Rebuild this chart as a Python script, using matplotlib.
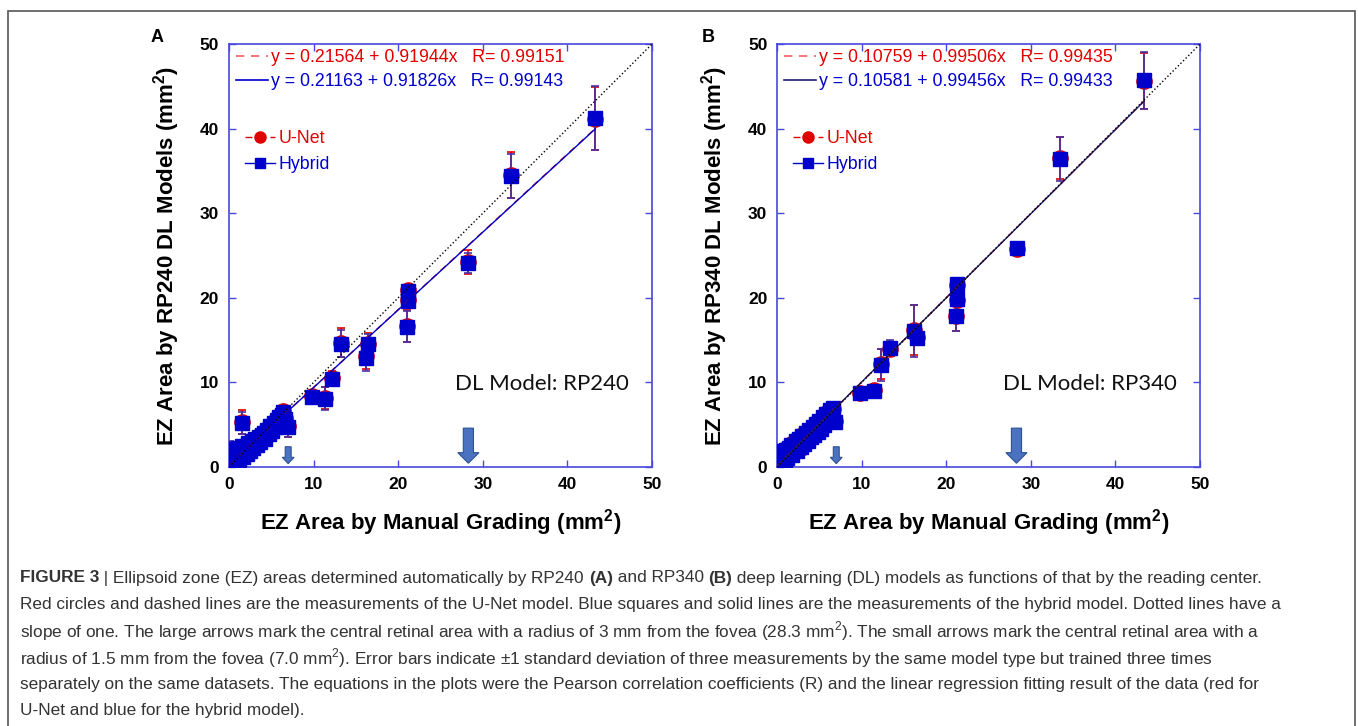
import matplotlib
matplotlib.use("Agg")
import matplotlib.pyplot as plt
from matplotlib.lines import Line2D
from matplotlib.patches import Rectangle
from matplotlib.text import Annotation

plt.rcParams['font.family'] = ['Liberation Sans', 'DejaVu Sans']
plt.rcParams['mathtext.fontset'] = 'custom'
plt.rcParams['mathtext.rm'] = 'Liberation Sans'
plt.rcParams['mathtext.bf'] = 'Liberation Sans:bold'

# ---------------- datos ----------------
# Panel A: modelo RP240
manual_a = [0.05, 0.15, 0.2, 0.3, 0.4, 0.5, 0.6, 0.75, 0.85, 0.95,
            1.1, 1.2, 1.35, 1.5, 1.7, 1.9, 2.1, 2.3, 2.5, 2.7,
            2.9, 3.1, 3.3, 3.5, 3.7, 3.9, 4.1, 4.3, 4.5, 4.7,
            4.9, 5.1, 5.3, 5.5, 5.7, 5.9, 6.1, 6.3, 6.4, 6.6,
            1.6, 7.0, 9.8, 11.4, 12.2, 13.2, 16.2, 16.4, 21.0, 21.2,
            21.2, 28.3, 33.3, 43.3]
hybrid_a = [0.1, 1.5, 0.25, 1.1, 1.6, 0.5, 2.1, 0.9, 0.3, 1.6,
            2.2, 0.8, 1.8, 2.5, 1.2, 2.3, 1.6, 2.8, 1.9, 3.1,
            2.2, 3.3, 2.6, 3.6, 3.0, 3.8, 4.0, 3.3, 4.4, 3.9,
            4.9, 4.3, 5.2, 4.7, 5.6, 5.9, 5.1, 6.2, 6.5, 5.7,
            5.2, 4.7, 8.3, 8.1, 10.4, 14.6, 12.9, 14.5, 16.6, 19.6,
            20.8, 24.1, 34.4, 41.3]
hybrid_a_sd = [0.2, 1.6, 0.2, 0.3, 0.2, 0.3, 0.3, 0.2, 0.3, 0.2,
               0.3, 0.2, 0.3, 0.2, 0.3, 0.2, 0.3, 0.2, 0.3, 0.2,
               0.3, 0.2, 0.3, 0.2, 0.3, 0.2, 0.3, 0.2, 0.3, 0.2,
               0.3, 0.2, 0.3, 0.2, 0.3, 0.2, 0.3, 0.2, 0.3, 0.2,
               1.3, 1.1, 0.3, 1.4, 0.7, 1.6, 1.6, 1.2, 1.8, 0.7,
               0.5, 1.2, 2.6, 3.8]
unet_a = [0.2, 1.4, 0.3, 1.2, 1.5, 0.6, 2.0, 1.0, 0.4, 1.7,
          2.1, 0.9, 1.9, 2.4, 1.3, 2.4, 1.7, 2.7, 2.0, 3.2,
          2.3, 3.2, 2.7, 3.7, 3.1, 3.9, 3.9, 3.4, 4.5, 4.0,
          4.8, 4.4, 5.3, 4.8, 5.5, 6.0, 5.2, 6.1, 6.6, 5.8,
          5.3, 4.8, 8.4, 8.2, 10.5, 14.7, 13.1, 14.6, 16.7, 19.7,
          20.9, 24.2, 34.5, 41.2]
unet_a_sd = [0.3, 1.5, 0.3, 0.3, 0.3, 0.3, 0.3, 0.3, 0.3, 0.3,
             0.3, 0.3, 0.3, 0.3, 0.3, 0.3, 0.3, 0.3, 0.3, 0.3,
             0.3, 0.3, 0.3, 0.3, 0.3, 0.3, 0.3, 0.3, 0.3, 0.3,
             0.3, 0.3, 0.3, 0.3, 0.3, 0.3, 0.3, 0.3, 0.3, 0.3,
             1.4, 1.2, 0.4, 1.3, 0.8, 1.7, 1.5, 1.3, 1.9, 0.8,
             0.6, 1.4, 2.7, 3.7]

# Panel B: modelo RP340
manual_b = [0.05, 0.1, 0.2, 0.3, 0.4, 0.5, 0.6, 0.75, 0.9, 1.0,
            1.2, 1.4, 1.6, 1.8, 2.0, 2.2, 2.4, 2.6, 2.8, 3.0,
            3.2, 3.4, 3.6, 3.8, 4.0, 4.2, 4.4, 4.6, 4.8, 5.0,
            5.2, 5.4, 5.6, 5.8, 6.0, 6.2, 6.4, 6.6, 6.9, 9.8,
            11.5, 12.3, 13.3, 16.2, 16.6, 21.1, 21.3, 21.3, 28.4, 33.5,
            43.4]
hybrid_b = [0.1, 0.6, 1.3, 0.2, 0.9, 1.7, 0.4, 1.9, 0.7, 2.0,
            1.1, 2.2, 2.6, 1.4, 2.1, 3.1, 1.9, 3.3, 2.4, 3.7,
            2.7, 4.0, 3.1, 4.4, 3.5, 4.7, 3.8, 5.1, 4.1, 5.4,
            4.5, 5.9, 5.0, 6.3, 5.4, 6.8, 5.9, 7.0, 5.3, 8.8,
            9.0, 12.1, 14.1, 16.1, 15.3, 17.8, 19.9, 21.6, 25.9, 36.4,
            45.7]
hybrid_b_sd = [0.2, 0.3, 0.2, 0.3, 0.2, 0.3, 0.2, 0.3, 0.2, 0.8,
               0.2, 0.3, 0.2, 0.3, 0.2, 0.3, 0.2, 0.3, 0.2, 0.3,
               0.2, 0.3, 0.2, 0.3, 0.2, 0.3, 0.2, 0.3, 1.0, 0.3,
               0.2, 0.3, 0.2, 0.3, 0.2, 0.3, 0.2, 0.3, 0.3, 0.2,
               0.2, 1.9, 0.9, 3.1, 0.8, 1.7, 0.4, 0.6, 0.3, 2.6,
               3.4]
unet_b = [0.2, 0.7, 1.2, 0.3, 1.0, 1.6, 0.5, 2.0, 0.8, 1.9,
          1.2, 2.1, 2.7, 1.5, 2.0, 3.2, 2.0, 3.4, 2.3, 3.8,
          2.8, 3.9, 3.2, 4.3, 3.6, 4.6, 3.9, 5.2, 4.2, 5.3,
          4.6, 5.8, 5.1, 6.4, 5.5, 6.7, 6.0, 6.9, 5.4, 8.8,
          9.1, 12.2, 14.0, 16.2, 15.4, 17.9, 19.8, 21.5, 25.8, 36.5,
          45.6]
unet_b_sd = [0.3, 0.3, 0.3, 0.3, 0.3, 0.3, 0.3, 0.3, 0.3, 0.7,
             0.3, 0.3, 0.3, 0.3, 0.3, 0.3, 0.3, 0.3, 0.3, 0.3,
             0.3, 0.3, 0.3, 0.3, 0.3, 0.3, 0.3, 0.3, 1.1, 0.3,
             0.3, 0.3, 0.3, 0.3, 0.3, 0.3, 0.3, 0.3, 0.3, 0.3,
             0.3, 1.8, 0.8, 3.0, 0.9, 1.8, 0.5, 0.7, 0.4, 2.5,
             3.3]

# ajustes lineales (ordenada, pendiente, R)
fit_unet_a = (0.21564, 0.91944, 0.99151)
fit_hybrid_a = (0.21163, 0.91826, 0.99143)
fit_unet_b = (0.10759, 0.99506, 0.99435)
fit_hybrid_b = (0.10581, 0.99456, 0.99433)

# flechas: area central de radio 1.5 mm y 3 mm
arrow_x = [7.0, 28.3]

caption_lines = [
    "Red circles and dashed lines are the measurements of the U-Net model. Blue squares and solid lines are the measurements of the hybrid model. Dotted lines have a",
    "slope of one. The large arrows mark the central retinal area with a radius of 3 mm from the fovea (28.3 mm$^2$). The small arrows mark the central retinal area with a",
    "radius of 1.5 mm from the fovea (7.0 mm$^2$). Error bars indicate \u00b11 standard deviation of three measurements by the same model type but trained three times",
    "separately on the same datasets. The equations in the plots were the Pearson correlation coefficients (R) and the linear regression fitting result of the data (red for",
    "U-Net and blue for the hybrid model).",
]

RED = '#e00000'
BLUE = '#0000cc'
SPINE = '#4848e0'


def panel(ax, manual, unet, unet_sd, hybrid, hybrid_sd, fit_u, fit_h, model, hline_color):
    # U-Net debajo, Hybrid encima
    ax.errorbar(manual, unet, yerr=unet_sd, fmt='o', color=RED, ms=11,
                ecolor=RED, elinewidth=1.2, capsize=3, capthick=1.2, zorder=2)
    ax.errorbar(manual, hybrid, yerr=hybrid_sd, fmt='s', color=BLUE, ms=9.5,
                ecolor='#4a2fa0', elinewidth=1.2, capsize=3, capthick=1.2, zorder=3)

    xmax = max(manual)
    ax.plot([0, xmax], [fit_u[0], fit_u[0] + fit_u[1] * xmax], color=RED,
            ls=(0, (5, 4)), lw=1, zorder=4)
    ax.plot([0, xmax], [fit_h[0], fit_h[0] + fit_h[1] * xmax], color=hline_color,
            lw=1, zorder=4)
    ax.plot([0, 50], [0, 50], color='black', ls=':', lw=1, zorder=5)

    # flechas
    ax.arrow(arrow_x[0], 2.4, 0, -2.0, width=0.7, head_width=1.4, head_length=0.75,
             length_includes_head=True, fc='#4a72c0', ec='#2f528f', lw=0.8, zorder=6)
    ax.arrow(arrow_x[1], 4.6, 0, -4.15, width=1.2, head_width=2.5, head_length=1.25,
             length_includes_head=True, fc='#4a72c0', ec='#2f528f', lw=0.8, zorder=6)

    ax.text(26.7, 9.8, 'DL Model: ' + model, fontsize=16, family=['Lato', 'DejaVu Sans'],
            va='center', ha='left', color='#111111')

    # leyenda de ecuaciones
    eq_u = 'y = %.5f + %.5fx   R= %.5f' % fit_u
    eq_h = 'y = %.5f + %.5fx   R= %.5f' % fit_h
    leg1 = ax.legend([Line2D([], [], color='#f06060', ls=(0, (5, 4)), lw=1.2),
                      Line2D([], [], color=hline_color, lw=1.2)],
                     [eq_u, eq_h], loc='upper left', bbox_to_anchor=(0.0, 1.005),
                     frameon=False, fontsize=12.8, handlelength=1.8, handletextpad=0.15,
                     labelspacing=0.4, borderaxespad=0.1, borderpad=0.3)
    for t, c in zip(leg1.get_texts(), [RED, BLUE]):
        t.set_color(c)
    ax.add_artist(leg1)

    ax.legend([Line2D([], [], color=RED, ls=(0, (5, 4)), marker='o', ms=8, lw=1),
               Line2D([], [], color=BLUE, marker='s', ms=7.5, lw=1)],
              ['U-Net', 'Hybrid'], loc='upper left', bbox_to_anchor=(0.0, 0.835),
              frameon=False, fontsize=12.8, handlelength=1.7, handletextpad=0.2,
              labelspacing=0.5, labelcolor='linecolor')

    ax.set_xlim(0, 50)
    ax.set_ylim(0, 50)
    ax.set_xticks(range(0, 51, 10))
    ax.set_yticks(range(0, 51, 10))
    ax.set_xticklabels([str(v) for v in range(0, 51, 10)], fontweight='bold', fontsize=12.5)
    ax.set_yticklabels([str(v) for v in range(0, 51, 10)], fontweight='bold', fontsize=12.5)
    ax.tick_params(direction='in', top=True, right=True, length=5, width=1,
                   color=SPINE, pad=7)
    for s in ax.spines.values():
        s.set_color(SPINE)
        s.set_linewidth(1.2)
    ax.set_xlabel('EZ Area by Manual Grading (mm$\\mathbf{^2}$)', fontsize=16,
                  fontweight='bold', labelpad=11)
    ax.set_ylabel('EZ Area by %s DL Models (mm$\\mathbf{^2}$)' % model, fontsize=16,
                  fontweight='bold', labelpad=13)


fig = plt.figure(figsize=(13.58, 7.26), dpi=100)
ax_a = fig.add_axes([0.1686, 0.3567, 0.3115, 0.5826])
ax_b = fig.add_axes([0.5722, 0.3567, 0.3115, 0.5826])

panel(ax_a, manual_a, unet_a, unet_a_sd, hybrid_a, hybrid_a_sd, fit_unet_a, fit_hybrid_a,
      'RP240', BLUE)
panel(ax_b, manual_b, unet_b, unet_b_sd, hybrid_b, hybrid_b_sd, fit_unet_b, fit_hybrid_b,
      'RP340', '#1c1c70')

fig.text(157 / 1358, 1 - 38 / 726, 'A', fontsize=13, fontweight='bold', ha='center', va='center')
fig.text(708 / 1358, 1 - 38 / 726, 'B', fontsize=13, fontweight='bold', ha='center', va='center')

# marco exterior
fig.add_artist(Rectangle((8 / 1358, -0.02), 1347 / 1358, 1.02 - 10.5 / 726,
                         transform=fig.transFigure, fill=False, ec='#555555', lw=1.2))

# pie de figura
cap_color = '#333333'
cap_size = 12.4
y0 = 1 - 578 / 726
dy = 26.6 / 726
pieces = [('FIGURE 3', 'bold'), (' | Ellipsoid zone (EZ) areas determined automatically by RP240 ', 'normal'),
          ('(A)', 'bold'), (' and RP340 ', 'normal'), ('(B)', 'bold'),
          (' deep learning (DL) models as functions of that by the reading center.', 'normal')]
prev = fig.text(20 / 1358, y0, pieces[0][0], fontsize=cap_size, fontweight=pieces[0][1],
                color=cap_color, va='center', ha='left')
for txt, w in pieces[1:]:
    an = Annotation(txt, xy=(1, 0), xycoords=prev, va='bottom', ha='left',
                    fontsize=cap_size, fontweight=w, color=cap_color)
    fig.add_artist(an)
    prev = an
for i, line in enumerate(caption_lines):
    fig.text(20 / 1358, y0 - (i + 1) * dy, line, fontsize=cap_size, color=cap_color,
             va='center', ha='left')

plt.savefig('out.png', dpi=100)
